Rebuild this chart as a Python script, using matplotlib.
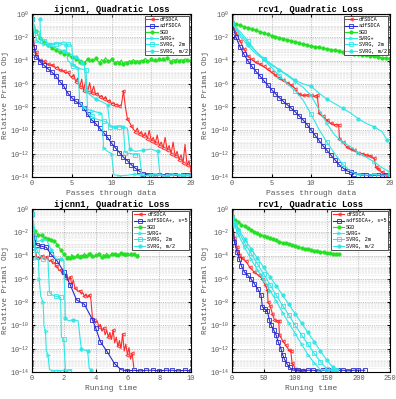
import matplotlib
matplotlib.use("Agg")
import matplotlib.pyplot as plt
import numpy as np
from matplotlib.ticker import LogLocator, NullFormatter

plt.rcParams['font.family'] = ['Liberation Mono', 'DejaVu Sans Mono']

RED = '#ff2a2a'
BLUE = '#2a2ad0'
GREEN = '#22e022'
CYAN = '#30e6e6'

# ---------------- ijcnn1, passes (log10 of relative primal obj) ----------------
tl_x_q = np.arange(0, 20.01, 0.25)
tl_sgd = [-0.45, -1.0, -1.5, -1.8, -2.05, -2.25, -2.4, -2.55, -2.7, -2.8, -2.95, -3.0,
          -3.1, -3.2, -3.3, -3.25, -3.4, -3.5, -3.45, -3.6, -3.7, -3.75, -3.9, -3.85,
          -4.1, -3.95, -4.2, -4.05, -3.85, -4.15, -3.95, -4.1, -3.8, -4.0, -4.2, -3.9,
          -4.05, -3.75, -4.0, -4.15, -3.9, -4.1, -4.25, -4.05, -4.2, -3.95, -4.3, -4.1,
          -4.2, -4.0, -4.15, -3.9, -4.1, -4.0, -4.15, -3.95, -4.05, -3.8, -4.0, -4.1,
          -3.9, -4.05, -3.95, -4.1, -3.85, -4.0, -3.9, -4.05, -3.8, -3.95, -4.1, -3.9,
          -4.0, -3.85, -4.05, -3.9, -4.0, -3.85, -3.95, -4.1, -3.95]
tl_df = [-0.45, -2.7, -3.3, -3.7, -3.95, -4.1, -4.05, -4.25, -4.3, -4.4, -4.35, -4.5,
         -4.6, -4.55, -4.8, -4.85, -4.9, -5.1, -5.0, -5.3, -5.4, -5.2, -5.8, -5.5,
         -6.3, -5.6, -6.6, -5.7, -6.7, -5.9, -6.8, -6.2, -6.9, -6.8, -7.1, -7.0,
         -7.3, -7.1, -7.5, -7.4, -7.7, -7.6, -7.8, -7.75, -7.9, -7.8, -6.6, -8.0,
         -9.0, -9.3, -9.6, -9.9, -10.1, -9.8, -10.3, -10.1, -10.5, -10.2, -10.7, -10.0,
         -10.9, -10.6, -11.1, -10.4, -11.3, -11.0, -11.5, -10.6, -11.7, -11.3, -12.0, -11.0,
         -12.2, -11.8, -12.5, -12.1, -12.8, -11.2, -13.0, -12.6, -13.5]
tl_x_adf = [0, 0.25, 0.5, 1, 1.5, 2, 2.5, 3, 3.5, 4, 4.5, 5, 5.5, 6, 6.5, 7, 7.5, 8,
            8.5, 9, 9.5, 10, 10.5, 11, 11.5, 12, 12.5, 13, 13.5, 14, 14.5, 15, 15.5,
            16, 16.5, 17, 17.5, 18, 18.5, 19, 19.5, 20]
tl_adf = [-0.45, -2.8, -3.7, -4.1, -4.4, -4.7, -5.0, -5.35, -5.8, -6.2, -6.8, -7.2,
          -7.5, -7.7, -8.1, -8.6, -9.1, -9.4, -9.8, -10.2, -10.6, -11.1, -11.5, -11.9,
          -12.3, -12.6, -12.95, -13.25, -13.5, -13.7, -13.8, -13.85, -13.9, -13.85,
          -13.9, -13.85, -13.8, -13.85, -13.9, -13.85, -13.85, -13.9]
tl_x_svp = [0, 0.3, 0.6, 1, 1.5, 2, 2.5, 3, 3.5, 4, 4.3, 4.5, 5, 5.5, 5.8, 6, 6.5, 7,
            7.5, 8, 8.5, 8.8, 9.0, 9.5, 10, 10.3, 11, 12, 13, 14, 15, 16, 17, 18, 19, 20]
tl_svp = [-0.45, -1.5, -2.3, -2.5, -2.6, -2.7, -2.6, -2.5, -2.55, -2.6, -2.7, -4.0,
          -4.3, -4.5, -4.6, -7.6, -8.0, -8.2, -8.3, -8.4, -8.5, -8.6, -11.5, -11.8,
          -12.0, -13.8, -13.9, -13.85, -13.75, -13.9, -13.8, -13.85, -13.9, -13.8,
          -13.85, -13.9]
tl_x_sv2 = [0, 0.3, 0.6, 1, 1.5, 2, 3, 4, 4.5, 5, 5.2, 6, 6.8, 7, 7.5, 8, 9, 9.5, 9.8,
            10.5, 11, 11.5, 11.7, 12.5, 13, 13.5, 13.8, 14.5, 15.5, 16.5, 17.5, 18.5,
            19.5, 20]
tl_sv2 = [-0.45, -1.0, -1.6, -2.0, -2.3, -2.5, -2.6, -2.4, -2.6, -2.7, -4.5, -4.7,
          -4.8, -8.5, -8.8, -9.0, -9.2, -9.3, -9.7, -9.8, -9.7, -9.8, -11.9, -12.0,
          -12.1, -12.0, -13.8, -13.9, -13.8, -13.9, -13.85, -13.75, -13.9, -13.85]
tl_x_svh = [1, 1.1, 2, 3, 4, 5, 5.5, 6, 6.3, 6.6, 6.8, 7.2, 8, 9, 9.5, 9.8, 10.5, 11,
            11.5, 12, 12.3, 13, 14, 15, 15.8, 16.1, 17, 18, 19, 20]
tl_svh = [-0.45, -2.5, -2.7, -2.9, -3.2, -3.5, -3.7, -3.9, -4.2, -4.4, -6.5, -6.9,
          -7.3, -7.6, -7.8, -9.6, -9.7, -9.6, -9.7, -9.8, -11.6, -11.8, -11.7, -11.6,
          -11.8, -13.8, -13.9, -13.8, -13.9, -13.85]

# ---------------- rcv1, passes ----------------
tr_x_h = np.arange(0, 20.01, 0.5)
tr_sgd = [-0.75, -0.86, -0.97, -1.08, -1.19, -1.3, -1.41, -1.52, -1.63, -1.74, -1.85,
          -1.94, -2.03, -2.12, -2.21, -2.3, -2.39, -2.48, -2.57, -2.66, -2.75, -2.81,
          -2.87, -2.93, -2.99, -3.05, -3.11, -3.17, -3.23, -3.29, -3.35, -3.4, -3.45,
          -3.5, -3.55, -3.6, -3.65, -3.7, -3.75, -3.8, -3.85]
tr_x_df = [0, 0.5, 1, 1.5, 2, 2.5, 3, 3.5, 4, 4.5, 5, 5.5, 6, 6.5, 7, 7.5, 8, 8.5, 9,
           9.5, 10, 10.5, 10.8, 11, 11.5, 12, 12.5, 13, 13.5, 13.6, 14, 14.5, 15, 15.5,
           16, 16.5, 17, 17.5, 18, 18.2, 18.5, 19, 19.5]
tr_df = [-0.75, -1.6, -2.3, -3.0, -3.6, -3.9, -4.15, -4.3, -4.5, -4.75, -5.0, -5.25,
         -5.5, -5.7, -5.9, -6.1, -6.4, -6.9, -7.0, -6.95, -7.0, -7.05, -7.0, -8.5,
         -8.8, -9.1, -9.4, -9.5, -9.5, -10.7, -11.0, -11.4, -11.6, -11.7, -11.9, -12.0,
         -12.1, -12.2, -12.4, -13.1, -13.3, -13.6, -13.8]
tr_adf = [-0.75, -2.0, -2.8, -3.45, -4.0, -4.5, -4.9, -5.3, -5.7, -6.1, -6.5, -6.85,
          -7.2, -7.5, -7.8, -8.1, -8.4, -8.75, -9.1, -9.5, -9.95, -10.4, -10.85, -11.3,
          -11.7, -12.1, -12.5, -12.9, -13.2, -13.45, -13.6, -13.7, -13.8, -13.85,
          -13.85, -13.9, -13.85, -13.85, -13.9, -13.85, -13.85]
tr_x_sv = np.arange(0, 20.01, 1.0)
tr_svp = [-0.75, -1.7, -2.5, -3.2, -3.8, -4.3, -4.8, -5.3, -5.8, -6.3, -7.0, -8.2,
          -9.4, -10.4, -11.0, -11.4, -11.9, -12.3, -12.7, -13.2, -13.6]
tr_sv2 = [-0.75, -1.5, -2.3, -3.2, -3.9, -4.6, -5.3, -6.0, -6.6, -7.4, -8.6, -9.9,
          -11.0, -12.0, -12.9, -13.5, -13.8, -13.85, -13.8, -13.85, -13.85]
tr_x_svh = [0, 1, 2, 3, 4, 5, 6, 7, 8, 9, 10, 11, 12, 13, 14, 15, 16, 17, 18, 19, 19.6]
tr_svh = [-0.75, -1.9, -2.7, -3.4, -3.9, -4.4, -4.8, -5.2, -5.7, -6.0, -6.2, -6.8,
          -7.3, -7.7, -8.1, -8.5, -9.0, -9.4, -9.7, -10.1, -10.8]

# ---------------- ijcnn1, running time ----------------
bl_x_df = np.arange(0, 6.41, 0.1)
bl_df = [-0.45, -3.1, -3.4, -4.2, -4.1, -4.3, -4.0, -4.2, -4.35, -4.1, -4.3, -4.5,
         -4.4, -4.7, -4.6, -4.9, -5.0, -5.3, -5.2, -5.6, -5.5, -5.9, -5.6, -6.2, -5.8,
         -6.5, -6.1, -6.8, -6.9, -7.1, -7.0, -7.3, -7.2, -7.5, -7.3, -7.6, -7.4, -7.7,
         -9.3, -9.5, -9.8, -9.6, -10.1, -9.9, -10.5, -10.2, -10.8, -10.4, -11.0, -10.6,
         -11.2, -10.4, -11.5, -11.0, -11.8, -11.3, -12.0, -10.7, -12.2, -11.6, -12.5,
         -11.9, -12.9, -12.4, -13.6]
bl_x_sgd = np.arange(0, 6.71, 0.1)
bl_sgd = [-0.45, -1.8, -1.9, -2.1, -2.2, -2.3, -2.2, -2.4, -2.5, -2.45, -2.6, -2.5,
          -2.7, -2.8, -2.75, -2.9, -3.1, -3.3, -3.5, -3.7, -3.9, -4.0, -4.2, -4.05,
          -4.25, -3.9, -4.1, -4.3, -4.0, -3.85, -4.15, -3.95, -4.05, -3.8, -4.0, -4.1,
          -3.9, -3.75, -4.0, -4.2, -3.95, -4.1, -3.85, -4.0, -4.15, -3.9, -4.05, -3.8,
          -4.0, -4.1, -3.85, -4.0, -3.9, -4.1, -3.95, -4.05, -3.8, -4.0, -3.9, -4.1,
          -3.85, -4.0, -3.9, -4.05, -3.85, -3.95, -4.0, -3.9]
bl_x_adf = [0, 0.15, 0.3, 0.6, 0.9, 1.2, 1.6, 2.0, 2.4, 2.8, 3.3, 3.8, 4.0, 4.3, 4.7,
            5.2, 5.6, 6.0, 6.4, 6.8, 7.2, 7.6, 8.0, 8.4, 8.8, 9.2, 9.6, 10.0]
bl_adf = [-0.45, -2.5, -3.1, -3.2, -3.3, -3.9, -4.5, -5.4, -6.5, -7.8, -8.2, -9.5,
          -10.2, -11.4, -12.2, -13.3, -13.8, -13.9, -13.85, -13.9, -13.85, -13.85,
          -13.9, -13.85, -13.85, -13.9, -13.85, -13.9]
bl_x_svp = [0, 0.1, 0.25, 0.4, 0.45, 0.55, 0.7, 0.75, 0.85, 0.9, 1.0, 1.1, 1.3, 1.5,
            1.7, 1.9, 2.1]
bl_svp = [-0.45, -2.8, -4.2, -4.3, -6.0, -7.5, -8.0, -10.0, -10.5, -12.2, -12.5,
          -13.8, -13.9, -13.85, -13.9, -13.85, -13.9]
bl_x_sv2 = [0, 0.15, 0.3, 0.5, 0.7, 1.0, 1.1, 1.3, 1.5, 1.7, 1.8, 1.85, 2.0, 2.1,
            2.3, 2.5]
bl_sv2 = [-0.45, -3.0, -3.5, -4.0, -4.3, -4.3, -7.2, -7.4, -7.5, -7.5, -7.6, -11.0,
          -11.2, -13.8, -13.9, -13.85]
bl_x_svh = [0, 0.3, 0.6, 0.9, 1.2, 1.5, 1.8, 2.0, 2.1, 2.3, 2.6, 2.9, 3.1, 3.3, 3.5,
            3.6, 3.7]
bl_svh = [-0.45, -2.8, -2.7, -2.6, -3.5, -4.3, -4.3, -4.4, -9.4, -9.6, -9.5, -9.6,
          -12.0, -12.1, -12.2, -13.7, -13.8]

# ---------------- rcv1, running time ----------------
br_x_sgd = np.arange(0, 171, 5)
br_sgd = [-0.7, -0.95, -1.15, -1.35, -1.5, -1.65, -1.8, -1.95, -2.05, -2.2, -2.3, -2.4,
          -2.5, -2.6, -2.7, -2.8, -2.88, -2.96, -3.04, -3.12, -3.2, -3.27, -3.34, -3.4,
          -3.46, -3.52, -3.58, -3.63, -3.68, -3.73, -3.77, -3.81, -3.85, -3.88, -3.9]
br_x_df = [0, 3.7, 8, 11.6, 16, 22, 28, 35, 42, 48, 52, 56, 57, 60, 64, 67, 71, 74,
           75, 80, 85, 90, 93, 95, 100, 105, 110]
br_df = [-0.7, -2.5, -3.3, -3.95, -4.2, -4.5, -5.0, -5.4, -5.7, -6.0, -6.5, -6.95,
         -8.0, -8.3, -9.0, -9.5, -9.6, -9.6, -10.8, -11.3, -11.7, -12.1, -12.2, -13.2,
         -13.7, -13.85, -13.85]
br_x_adf = [0, 3.7, 8, 11.6, 15, 19.5, 25, 30, 35, 40.6, 46, 48, 52, 56, 59, 62, 66,
            69.6, 73, 77.5, 80, 83, 87, 91, 96, 104, 112, 120, 128, 136, 144, 152, 160,
            168, 176, 184, 192, 200, 210]
br_adf = [-0.7, -2.8, -3.7, -4.3, -4.9, -5.4, -5.7, -6.0, -6.4, -6.85, -7.4, -8.4,
          -8.6, -8.8, -9.5, -10.0, -10.4, -10.8, -11.4, -12.0, -12.5, -12.9, -13.3,
          -13.6, -13.85, -13.85, -13.9, -13.85, -13.85, -13.9, -13.85, -13.85, -13.9,
          -13.85, -13.85, -13.9, -13.85, -13.85, -13.85]
br_x_sv = [0, 5, 10, 20, 30, 40, 50, 60, 70, 80, 90, 100, 110, 120, 130, 140, 150,
           160, 165]
br_svp = [-0.7, -1.5, -2.2, -3.3, -4.3, -5.2, -6.1, -7.0, -7.9, -8.9, -9.8, -10.7,
          -11.6, -12.5, -13.2, -13.8, -13.85, -13.85, -13.8]
br_sv2 = [-0.7, -1.3, -1.9, -2.9, -3.8, -4.7, -5.6, -6.5, -7.4, -8.3, -9.1, -10.0,
          -10.8, -11.6, -12.4, -13.1, -13.75, -13.85, -13.85]
br_svh = [-0.7, -1.2, -1.7, -2.6, -3.4, -4.2, -5.0, -5.8, -6.6, -7.4, -8.2, -9.0,
          -9.8, -10.6, -11.4, -12.2, -13.0, -13.6, -13.8]

labels_top = ['dfSDCA', 'adfSDCA', 'SGD', 'SVRG+', 'SVRG, 2m', 'SVRG, m/2']
labels_bot = ['dfSDCA', 'adfSDCA+, s=5', 'SGD', 'SVRG+', 'SVRG, 2m', 'SVRG, m/2']

styles = [
    dict(color=RED, marker='<', mfc='none'),
    dict(color=BLUE, marker='s', mfc='none'),
    dict(color=GREEN, marker='o', mfc=GREEN),
    dict(color=CYAN, marker='>', mfc='none'),
    dict(color=CYAN, marker='s', mfc='none'),
    dict(color=CYAN, marker='o', mfc=CYAN),
]


def panel(ax, series, every, title, xlabel, xlim, xticks, labels):
    for (xs, ys), st, ev in zip(series, styles, every):
        ax.plot(xs, 10 ** np.array(ys), lw=0.8, ms=2.4, mew=0.6, markevery=ev, **st)
    ax.set_yscale('log')
    ax.set_ylim(1e-14, 1)
    ax.set_xlim(*xlim)
    ax.set_xticks(xticks)
    ax.set_yticks([10.0 ** k for k in range(-14, 1, 2)])
    ax.yaxis.set_minor_locator(LogLocator(base=10, subs=np.arange(1, 10), numticks=100))
    ax.yaxis.set_minor_formatter(NullFormatter())
    ax.grid(True, which='major', ls=':', color='0.55', lw=0.5)
    ax.grid(True, which='minor', ls=':', color='0.8', lw=0.4)
    ax.tick_params(which='both', direction='in', top=True, right=True, labelsize=5,
                   labelcolor='0.35', length=2, pad=2)
    ax.tick_params(which='minor', length=1)
    ax.set_title(title, fontsize=6.3, fontweight='bold', pad=1.5)
    ax.set_xlabel(xlabel, fontsize=5.8, color='0.35', labelpad=2)
    ax.set_ylabel('Relative Primal Obj', fontsize=5.6, color='0.35', labelpad=1)
    leg = ax.legend(labels, loc='upper right', fontsize=3.7, fancybox=False,
                    edgecolor='0.2', handlelength=2.2, borderpad=0.3, labelspacing=0.25,
                    handletextpad=0.4, borderaxespad=0.3, framealpha=1)
    leg.get_frame().set_linewidth(0.6)


fig = plt.figure(figsize=(3.96, 3.99), dpi=100)
W, H = 396.0, 399.0
ax_tl = fig.add_axes([32 / W, 1 - 177 / H, 159 / W, 163 / H])
ax_tr = fig.add_axes([232 / W, 1 - 177 / H, 158 / W, 163 / H])
ax_bl = fig.add_axes([32 / W, 1 - 372 / H, 159 / W, 163 / H])
ax_br = fig.add_axes([232 / W, 1 - 372 / H, 158 / W, 163 / H])

panel(ax_tl,
      [(tl_x_q, tl_df), (tl_x_adf, tl_adf), (tl_x_q, tl_sgd),
       (tl_x_svp, tl_svp), (tl_x_sv2, tl_sv2), (tl_x_svh, tl_svh)],
      [2, 1, 2, 2, 2, 2],
      'ijcnn1, Quadratic Loss', 'Passes through data', (0, 20), [0, 5, 10, 15, 20],
      labels_top)
panel(ax_tr,
      [(tr_x_df, tr_df), (tr_x_h, tr_adf), (tr_x_h, tr_sgd),
       (tr_x_sv, tr_svp), (tr_x_sv, tr_sv2), (tr_x_svh, tr_svh)],
      [1, 1, 1, 2, 2, 2],
      'rcv1, Quadratic Loss', 'Passes through data', (0, 20), [0, 5, 10, 15, 20],
      labels_top)
panel(ax_bl,
      [(bl_x_df, bl_df), (bl_x_adf, bl_adf), (bl_x_sgd, bl_sgd),
       (bl_x_svp, bl_svp), (bl_x_sv2, bl_sv2), (bl_x_svh, bl_svh)],
      [3, 1, 2, 2, 2, 2],
      'ijcnn1, Quadratic Loss', 'Runing time', (0, 10), [0, 2, 4, 6, 8, 10],
      labels_bot)
panel(ax_br,
      [(br_x_df, br_df), (br_x_adf, br_adf), (br_x_sgd, br_sgd),
       (br_x_sv, br_svp), (br_x_sv, br_sv2), (br_x_sv, br_svh)],
      [1, 1, 1, 1, 1, 1],
      'rcv1, Quadratic Loss', 'Runing time', (0, 250), [0, 50, 100, 150, 200, 250],
      labels_bot)

fig.savefig('out.png', dpi=100)
